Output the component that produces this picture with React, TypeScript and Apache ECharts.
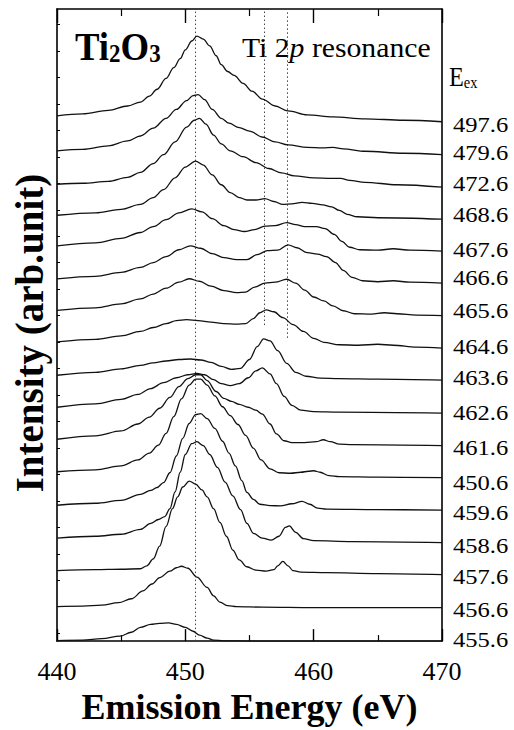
import React, { useEffect, useRef } from "react";
import * as echarts from "echarts";

// ---- data ----
const energyMin = 440;
const energyMax = 470;
const energyTickStep = 10;

// excitation energies printed at the right of each trace (bottom -> top), as printed
const excitationLabels = [
  "455.6", "456.6", "457.6", "458.6", "459.6", "450.6", "461.6", "462.6",
  "463.6", "464.6", "465.6", "466.6", "467.6", "468.6", "472.6", "479.6", "497.6",
];

// vertical offset of each trace (arb. units), bottom -> top
const baselineOffsets = [
  0, 33, 66.5, 99.5, 133, 166, 198.5, 231.5, 265, 297.5, 330.5, 363.5, 396, 428.5, 461, 494, 527.5,
];

// [emission energy (eV), intensity above the trace's offset]
const s455_6 = [[440,0.5],[442,1],[443.5,2.5],[444.9,5],[445.8,9],[446.5,14],[447.3,17],[448,18],[448.7,18.5],[449.3,17],[450,14],[450.6,10],[451.1,6],[451.7,3],[452.2,1],[453,0.3],[455,0],[460,0],[470,0]];
const s456_6 = [[440,2],[442,2.5],[443.5,3.5],[444.8,6],[445.8,10],[446.7,18],[447.4,25],[448,31.5],[448.8,38],[449.3,41.5],[449.7,43],[450.2,41],[450.9,32],[451.7,21.5],[452.2,13],[452.7,6.5],[453.3,3],[454,2],[456,1.5],[460,1],[465,1],[470,1]];
const s457_6 = [[440,5],[443,6],[445,6.5],[446.5,7],[447,10],[447.5,17],[448,30],[448.5,50],[449,68],[449.4,80],[449.8,90],[450.3,96],[450.8,93],[451.3,87],[451.7,80],[452.2,68],[452.7,54],[453.2,40],[453.7,26],[454.2,16],[454.8,9],[455.5,5.5],[456.3,4.5],[456.9,6],[457.2,10],[457.6,14.5],[458,10],[458.4,5],[459,3.5],[461,3],[465,2],[470,1]];
const s458_6 = [[440,5],[443,7],[445,9],[446.5,14],[447.3,20],[447.9,24],[448.4,27],[448.8,35],[449.2,52],[449.6,72],[450,90],[450.5,101],[450.9,103],[451.4,99],[451.9,90],[452.5,77],[453.1,62],[453.7,48],[454.3,34],[454.8,20],[455.3,10],[456,5],[456.7,3],[457.3,7],[457.8,16],[458.1,17.5],[458.6,11],[459.2,4.5],[460,2.5],[463,1.5],[470,0.5]];
const s459_6 = [[440,5],[443,7],[445,10],[446.5,16],[447.3,20],[447.8,23],[448.3,28],[448.8,38],[449.3,55],[449.8,73],[450.3,88],[450.8,97],[451.2,98],[451.7,93],[452.3,83],[452.9,70],[453.4,58],[453.9,45],[454.4,30],[454.8,18],[455.3,11],[455.8,6],[456.6,4.5],[457.4,4.4],[458.3,6.5],[459.1,9],[459.7,6],[460.3,2],[461,1],[465,0.5],[470,0]];
const s460_6 = [[440,6],[443,8],[445,12],[446.3,18],[447.2,25],[447.9,33],[448.5,45],[449.1,62],[449.7,80],[450.3,94],[450.8,100],[451.2,100],[451.7,94],[452.3,83],[452.9,72],[453.5,63],[454.1,54],[454.7,43],[455.3,30],[455.9,18],[456.6,9],[457.3,5],[458.2,4.5],[459,5.5],[459.6,6.5],[460,7],[460.5,5.5],[461.2,2],[462,1],[465,0.5],[470,0]];
const s461_6 = [[440,6.5],[443,10],[445,15],[446.3,22],[447.2,29],[448,38],[448.8,49],[449.5,60],[450.2,68],[450.8,72],[451.2,72],[451.7,66],[452.4,55],[453,48],[453.6,45],[454.2,42],[454.9,39],[455.5,36],[456,32],[456.6,22],[457.1,12],[457.7,5],[458.3,3],[459.3,3],[460.2,4],[460.75,6],[461.3,4],[462,1.5],[463,1],[470,0]];
const s462_6 = [[440,6],[443,9.5],[445,14],[446.3,19],[447.3,25],[448.3,31],[449.3,36],[450.2,39],[450.9,40.5],[451.5,39],[452.2,34],[452.8,30],[453.5,28],[454.2,30],[454.9,36],[455.5,43],[456,46],[456.6,40],[457.1,30],[457.7,17],[458.3,8],[459,3],[460,1.5],[462,1],[470,0]];
const s463_6 = [[440,5],[443,8],[445,11.5],[446.5,15],[447.5,17.5],[448.5,19.5],[449.5,21],[450.4,21.5],[451.2,20.5],[452,18],[452.8,14],[453.6,11],[454.3,12],[455,21],[455.6,34],[456.1,42],[456.6,40],[457.2,30],[457.9,17],[458.6,8],[459.4,4],[460.5,2],[462,1.5],[465,1],[470,0]];
const s464_6 = [[440,6.5],[443,9],[445,12.5],[446.5,17],[447.5,21],[448.5,25],[449.3,28],[450.1,29],[451,28],[452,26.5],[453,25],[454,24.5],[454.7,25],[455.3,30],[455.8,36],[456.3,39],[456.9,37],[457.6,31],[458.4,24],[459.2,17],[460,10],[460.8,6],[462,3.5],[463.5,3],[465,4],[466.2,3],[468,1],[470,0]];
const s465_6 = [[440,5.5],[443,8],[445,12],[446.5,17],[447.5,22],[448.5,28],[449.5,34],[450.3,37.5],[451.1,35],[452,30],[453,25.5],[454,23.5],[454.7,24],[455.4,29],[456.2,33],[457,34],[457.9,37],[458.6,33],[459.3,26],[460,19],[460.8,15],[461.5,10],[462.3,5],[463.2,2],[464.5,1.5],[465.5,3],[466.5,2],[468,0.5],[470,0]];
const s466_6 = [[440,4.5],[443,7],[445,11],[446.5,16],[447.5,21],[448.5,27],[449.5,34],[450.4,38],[451.2,35.5],[452.1,30],[453,26],[454,24],[454.8,24],[455.6,29],[456.4,33],[457.2,33.5],[458,39],[458.7,36],[459.5,31],[460.3,29.5],[461,27],[461.7,21],[462.3,13],[463,6],[463.8,2.5],[465,1.5],[466.2,2.5],[467.5,1],[470,0]];
const s467_6 = [[440,5.5],[443,8.5],[445,13],[446.5,19],[447.5,25],[448.5,32],[449.5,39],[450.5,43],[451.3,40],[452.1,33],[453,26],[453.8,22],[454.6,20],[455.4,22],[456.2,25.5],[457,26],[457.9,29],[458.6,27],[459.3,25],[460.2,25],[460.9,23],[461.6,17],[462.2,10],[462.8,4],[463.6,1.5],[465,1],[466.2,2.5],[467.5,1],[470,0]];
const s468_6 = [[440,4],[443,6.5],[445,10],[446.5,15],[447.5,22],[448.3,30],[449.2,42],[450,53],[450.8,59],[451.4,55],[452.1,45],[452.8,35],[453.5,27],[454.2,22],[454.8,19.5],[455.5,19.5],[456.2,21],[456.9,18],[457.6,15],[458.3,15.5],[459.1,17],[459.9,16],[460.7,14.5],[461.4,12.5],[462,9],[462.6,5],[463.4,2.5],[465,1.5],[470,0]];
const s472_6 = [[440,3],[442,4],[444,6],[445.5,10],[446.5,15],[447.5,24],[448.3,33],[449.2,46],[450.1,61],[450.7,68],[451.1,70],[451.6,64],[452.2,53],[452.8,44],[453.5,37],[454.5,31],[455.5,25],[456.5,19],[457.5,14.5],[458.5,11.5],[460,9.5],[461.4,9],[462.1,9],[462.8,7],[464,5],[466.5,2.5],[470,0]];
const s479_6 = [[440,4],[442,5.5],[444,9],[445.5,14],[446.5,19],[447.5,27],[448.5,37],[449.3,46],[450.1,55],[450.6,60],[451,61],[451.5,56],[452.1,46],[452.8,37],[453.4,32],[454.2,27.5],[455,24],[456,18],[457,13],[458,10],[459.5,7.5],[460.7,7],[461.5,7.5],[462.3,6],[464,3.5],[467,1.5],[470,0]];
const s497_6 = [[440,6],[442,8],[444,11.5],[445.5,16],[446.5,20],[447.2,26],[447.8,33],[448.5,44],[449.1,55],[449.6,64],[450,73],[450.5,82],[450.9,87],[451.4,84],[451.9,77],[452.4,67],[452.8,58],[453.3,51],[453.8,47],[454.5,39],[455.2,31],[456,23],[457,16],[458,11],[459.5,7],[461.5,5],[464,3],[467,1.5],[470,0]];

const spectra = [
  s455_6, s456_6, s457_6, s458_6, s459_6, s460_6, s461_6, s462_6, s463_6,
  s464_6, s465_6, s466_6, s467_6, s468_6, s472_6, s479_6, s497_6,
];

// dotted guide lines: energy and the intensity level where each one starts
const guideEnergies = [450.8, 456.15, 457.95];
const guideStarts = [0, 321, 308];

// ---- layout (pixels) ----
const PLOT = { left: 57, top: 9, width: 385, height: 642 };
const yTop = 642;
const labelCenterY = [640, 610.5, 577.5, 546.5, 513, 483.5, 448.5, 413.5, 378, 347, 311, 278, 250.5, 215.5, 184.5, 153, 125.5];
const SERIF = "Liberation Serif";

export default function App() {
  const ref = useRef<HTMLDivElement>(null);
  useEffect(() => {
    document.body.style.margin = "0";
    const chart = echarts.init(ref.current!, null, { renderer: "svg" });
    const axisLineStyle = { color: "#000", width: 1.6 };
    const series: any[] = spectra.map((pts, i) => ({
      type: "line",
      xAxisIndex: 0,
      yAxisIndex: 0,
      data: pts.map(([e, h]) => [e, baselineOffsets[i] + h]),
      showSymbol: false,
      symbol: "none",
      smooth: 0.35,
      smoothMonotone: "x",
      silent: true,
      clip: true,
      lineStyle: { color: "#111", width: 1.3 },
      z: 3,
    }));
    series[0].markLine = {
      silent: true,
      symbol: ["none", "none"],
      label: { show: false },
      lineStyle: { type: [1.5, 2.5], color: "#444", width: 1 },
      data: guideEnergies.map((e, k) => [
        { coord: [e, guideStarts[k]] },
        { coord: [e, yTop] },
      ]),
      z: 2,
    };

    chart.setOption({
      animation: false,
      backgroundColor: "#fff",
      textStyle: { fontFamily: SERIF },
      grid: [
        { ...PLOT },
        { left: 57, top: 24.6, width: 385, height: 608.6 },
      ],
      xAxis: [
        {
          gridIndex: 0, type: "value", min: energyMin, max: energyMax, interval: energyTickStep,
          position: "bottom",
          axisLine: { show: true, onZero: false, lineStyle: axisLineStyle },
          axisTick: { show: true, inside: true, length: 12, lineStyle: { color: "#000", width: 1.4 } },
          minorTick: { show: true, splitNumber: 2, length: 6, lineStyle: { color: "#000", width: 1.2 } },
          axisLabel: { show: true, margin: 17, fontFamily: SERIF, fontSize: 26, color: "#000" },
          splitLine: { show: false },
          name: "Emission Energy (eV)", nameLocation: "middle", nameGap: 43,
          nameTextStyle: { fontFamily: SERIF, fontWeight: "bold", fontSize: 36, color: "#000" },
        },
        {
          gridIndex: 0, type: "value", min: energyMin, max: energyMax, interval: energyTickStep,
          position: "top",
          axisLine: { show: true, onZero: false, lineStyle: axisLineStyle },
          axisTick: { show: true, inside: true, length: 14, lineStyle: { color: "#000", width: 1.4 } },
          minorTick: { show: true, splitNumber: 2, length: 7, lineStyle: { color: "#000", width: 1.2 } },
          axisLabel: { show: false },
          splitLine: { show: false },
        },
        { gridIndex: 1, type: "value", min: 0, max: 1, show: false },
      ],
      yAxis: [
        {
          gridIndex: 0, type: "value", min: 0, max: yTop, position: "left",
          axisLine: { show: true, onZero: false, lineStyle: axisLineStyle },
          axisTick: { show: false }, axisLabel: { show: false }, splitLine: { show: false },
          name: "Intensity (arb.unit)", nameLocation: "middle", nameGap: 8, nameRotate: 90,
          nameTextStyle: { fontFamily: SERIF, fontWeight: "bold", fontSize: 39, color: "#000", padding: [0, 16, 0, 0] },
        },
        {
          gridIndex: 0, type: "value", min: 0, max: yTop, position: "right",
          axisLine: { show: true, onZero: false, lineStyle: axisLineStyle },
          axisTick: { show: false }, axisLabel: { show: false }, splitLine: { show: false },
        },
        {
          gridIndex: 1, type: "value", min: 0, max: 23, interval: 1, position: "left",
          axisLine: { show: false },
          axisTick: { show: true, inside: true, length: 3, lineStyle: { color: "#000", width: 1 } },
          axisLabel: { show: false }, splitLine: { show: false },
        },
      ],
      series,
      graphic: [
        ...excitationLabels.map((t, i) => ({
          type: "text", x: 453, y: labelCenterY[i], scaleX: 1.17, silent: true,
          style: { text: t, fontFamily: SERIF, fontSize: 21, fill: "#000", align: "left", verticalAlign: "middle" },
        })),
        {
          type: "text", x: 449, y: 63.4, scaleX: 0.9, silent: true,
          style: {
            text: "{e|E}{s|ex}", fontFamily: SERIF, align: "left", verticalAlign: "top",
            rich: {
              e: { fontFamily: SERIF, fontSize: 27, lineHeight: 27, fill: "#000", verticalAlign: "bottom" },
              s: { fontFamily: SERIF, fontSize: 16, lineHeight: 18, fill: "#000", verticalAlign: "bottom" },
            },
          },
        },
        {
          type: "text", x: 75, y: 26, scaleX: 0.92, silent: true,
          style: {
            text: "{a|Ti}{b|2}{a|O}{b|3}", fontFamily: SERIF, fontWeight: "bold", align: "left", verticalAlign: "top",
            rich: {
              a: { fontFamily: SERIF, fontWeight: "bold", fontSize: 40, lineHeight: 40, fill: "#000", verticalAlign: "bottom" },
              b: { fontFamily: SERIF, fontWeight: "bold", fontSize: 25, lineHeight: 22, fill: "#000", verticalAlign: "bottom" },
            },
          },
        },
        {
          type: "text", x: 242, y: 47.6, scaleX: 1.1, silent: true,
          style: {
            text: "{n|Ti 2}{i|p}{n| resonance}", fontFamily: SERIF, align: "left", verticalAlign: "middle",
            rich: {
              n: { fontFamily: SERIF, fontSize: 27, fill: "#000" },
              i: { fontFamily: SERIF, fontSize: 27, fontStyle: "italic", fill: "#000" },
            },
          },
        },
      ],
    });
    return () => chart.dispose();
  }, []);
  return <div ref={ref} style={{ width: 514, height: 730 }} />;
}
